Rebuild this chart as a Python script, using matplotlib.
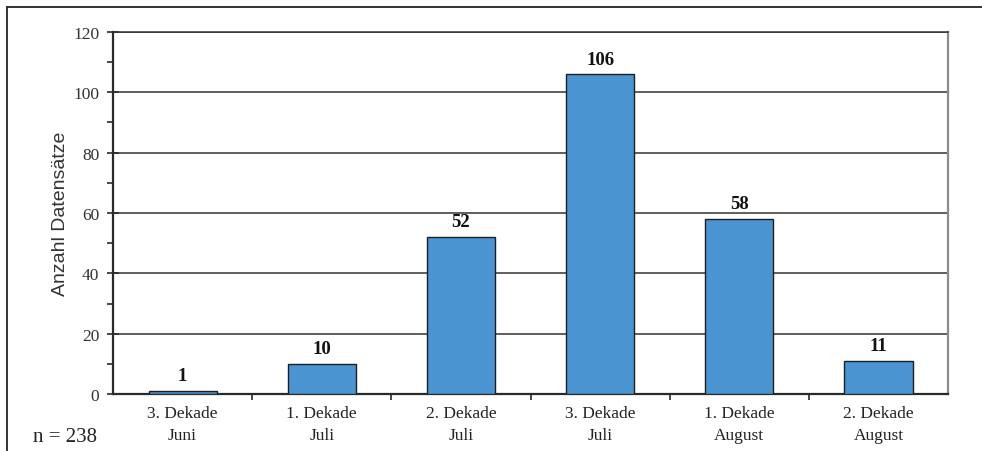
import matplotlib
matplotlib.use('Agg')
import matplotlib.pyplot as plt
from matplotlib.lines import Line2D
from matplotlib.ticker import MultipleLocator

categories = ["3. Dekade\nJuni", "1. Dekade\nJuli", "2. Dekade\nJuli",
              "3. Dekade\nJuli", "1. Dekade\nAugust", "2. Dekade\nAugust"]
counts = [1, 10, 52, 106, 58, 11]
n_label = "n = 238"

serif = "Liberation Serif"
sans = "Liberation Sans"
bar_color = "#4b94d2"
dark = "#2a2a2a"

fig = plt.figure(figsize=(9.82, 4.52), dpi=100)
fig.patch.set_facecolor("white")
ax = fig.add_axes([0.1151, 0.1261, 0.8503, 0.8009])

x = list(range(len(categories)))
bars = ax.bar(x, counts, width=0.49, color=bar_color, edgecolor="#1e1e1e",
              linewidth=1.0, zorder=3)
for xi, v in zip(x, counts):
    ax.text(xi, v + 2.2, str(v), ha="center", va="bottom", fontsize=13.5,
            fontweight="bold", family=serif, color="#111111")

ax.set_xlim(-0.5, len(categories) - 0.5)
ax.set_ylim(0, 120)
ax.yaxis.set_major_locator(MultipleLocator(20))
ax.yaxis.set_minor_locator(MultipleLocator(10))
ax.grid(axis="y", which="major", color="#333333", linewidth=1.1, zorder=1)

# category labels sit between the boundary ticks
ax.set_xticks([i + 0.5 for i in x[:-1]])
ax.set_xticklabels([])
ax.set_xticks(x, minor=True)
ax.set_xticklabels(categories, minor=True, family=serif, fontsize=12.5,
                   color="#222222", linespacing=1.45)
ax.tick_params(axis="x", which="minor", length=0, pad=8)
ax.tick_params(axis="x", which="major", direction="out", length=4,
               width=1.2, color=dark)
ax.tick_params(axis="y", which="major", direction="inout", length=8,
               width=1.2, color=dark, pad=6)
ax.tick_params(axis="y", which="minor", direction="out", length=4,
               width=1.2, color=dark)
for lbl in ax.get_yticklabels():
    lbl.set_family(serif)
    lbl.set_fontsize(12.5)
    lbl.set_color("#333333")

ax.spines["left"].set_color(dark)
ax.spines["left"].set_linewidth(1.6)
ax.spines["bottom"].set_color(dark)
ax.spines["bottom"].set_linewidth(1.6)
ax.spines["top"].set_color("#333333")
ax.spines["top"].set_linewidth(1.1)
ax.spines["right"].set_color("#8a8a8a")
ax.spines["right"].set_linewidth(1.6)

ax.set_ylabel("Anzahl Datensätze", family=sans, fontsize=14,
              color="#333333", labelpad=3)

fig.text(0.034, 0.01, n_label, family=serif, fontsize=15, color="#222222",
         ha="left", va="bottom")

# outer frame: top edge and left edge
fig.add_artist(Line2D([0.0071, 1.0], [0.9823, 0.9823], transform=fig.transFigure,
                      color="#333333", linewidth=1.4))
fig.add_artist(Line2D([0.0071, 0.0071], [0.0, 0.9823], transform=fig.transFigure,
                      color="#333333", linewidth=1.4))

fig.savefig("out.png", dpi=100, facecolor="white")
